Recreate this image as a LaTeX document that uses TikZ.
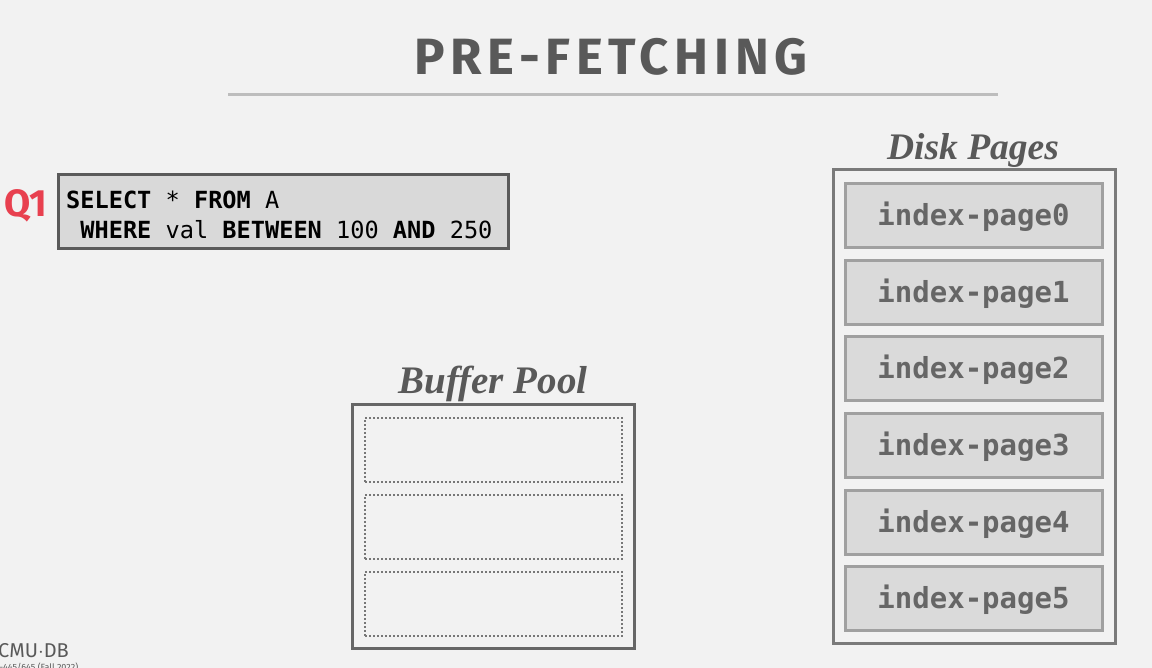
\documentclass[tikz,border=0pt]{standalone}
\usepackage{fontspec}
\setmainfont{Liberation Serif}
\newfontfamily\titlefont[LetterSpace=11]{Fira Sans}
\newfontfamily\qfont{Fira Sans}
\newfontfamily\monofont{DejaVu Sans Mono}
\newfontfamily\footfont{Fira Sans}
\definecolor{bg}{HTML}{F2F2F2}
\definecolor{titlegray}{HTML}{595959}
\definecolor{rulegray}{HTML}{BDBDBD}
\definecolor{qred}{HTML}{E8404F}
\definecolor{sqlfill}{HTML}{D9D9D9}
\definecolor{sqldraw}{HTML}{5A5A5A}
\definecolor{pagefill}{HTML}{DADADA}
\definecolor{pagedraw}{HTML}{A0A0A0}
\definecolor{pagetext}{HTML}{666666}
\definecolor{diskdraw}{HTML}{7A7A7A}
\definecolor{bufdraw}{HTML}{666666}
\definecolor{dotgray}{HTML}{777777}
\tikzset{
  pagebox/.style={draw=pagedraw, line width=3pt, fill=pagefill, minimum width=257pt, minimum height=64pt, inner sep=0pt,
     text=pagetext, font=\monofont\bfseries\fontsize{29}{29}\selectfont, text height=23pt, text depth=3pt},
  slotbox/.style={draw=dotgray, line width=2pt, dash pattern=on 2pt off 2pt, minimum width=257pt, minimum height=64pt, inner sep=0pt},
  framebox/.style={line width=3pt, fill=bg, minimum width=282pt, inner sep=0pt},
  headline/.style={text=titlegray, anchor=base},
  sqltext/.style={font=\monofont\fontsize{23.6}{30}\selectfont, text=black, anchor=north west, inner sep=0pt, align=left}
}
\begin{document}
\begin{tikzpicture}[x=1pt,y=-1pt]
\useasboundingbox (0,0) rectangle (1152,668);
\fill[bg] (0,0) rectangle (1152,668);
% title
\node[font=\titlefont\bfseries\fontsize{51}{51}\selectfont, text=titlegray, anchor=base] (title) at (611,75) {PRE-FETCHING};
\coordinate (rl) at (228,95);
\coordinate (rr) at (998,95);
\draw[rulegray, line width=3pt] (rl) -- (rr);
% query
\node[font=\qfont\bfseries\fontsize{38}{38}\selectfont, text=qred, anchor=base west, inner sep=0pt] (q1) at (4,217) {Q1};
\node[draw=sqldraw, line width=3pt, fill=sqlfill, minimum width=450pt, minimum height=74pt, inner sep=0pt] (sql) at (283,212) {};
\node[sqltext] (code) at (66,190.8) {\textbf{SELECT} * \textbf{FROM} A\\\ \textbf{WHERE} val \textbf{BETWEEN} 100 \textbf{AND} 250};
% disk
\node[headline, font=\bfseries\itshape\fontsize{37.5}{37.5}\selectfont] (diskt) at (973,160) {Disk Pages};
\node[framebox, draw=diskdraw, minimum height=473pt] (disk) at (974,406.5) {};
\foreach \i/\y in {0/216,1/292.5,2/369,3/445.5,4/522,5/598}{
  \node[pagebox] (p\i) at (973.5,\y) {index-page\i};
}
% buffer pool
\node[headline, font=\bfseries\itshape\fontsize{39}{39}\selectfont] (buft) at (493,394) {Buffer Pool};
\node[framebox, draw=bufdraw, minimum height=243pt] (buf) at (493,526.5) {};
\node[slotbox] (b1) at (493.5,450) {};
\node[slotbox] (b2) at (493.5,527) {};
\node[slotbox] (b3) at (493.5,604) {};
% footer
\node[font=\footfont\fontsize{20}{20}\selectfont, text=titlegray, anchor=base west, inner sep=0pt] (cmu) at (-2,657) {CMU$\cdot$DB};
\node[font=\footfont\fontsize{9}{9}\selectfont, text=titlegray, anchor=base west, inner sep=0pt] (course) at (-9,670) {15-445/645 (Fall 2022)};
\end{tikzpicture}
\end{document}
